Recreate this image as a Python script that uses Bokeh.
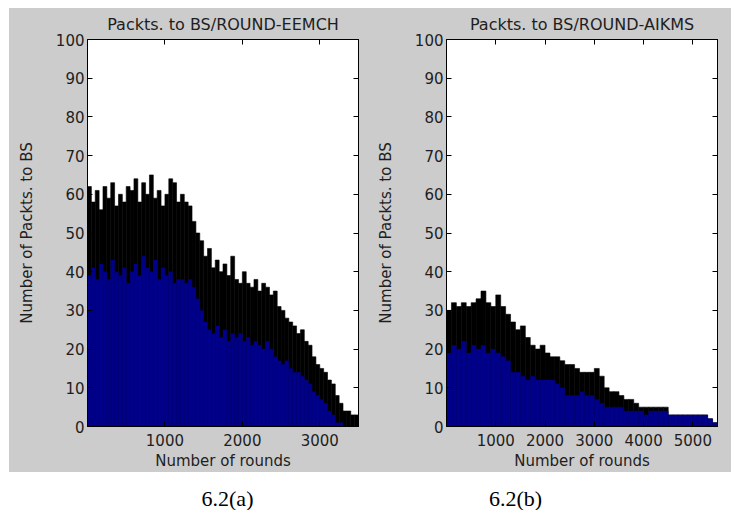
import numpy as np
from bokeh.plotting import figure
from bokeh.layouts import column, row
from bokeh.models import LinearAxis, Range1d, FixedTicker, Label
from bokeh.embed import file_html
from bokeh.resources import INLINE

# ---------------- data ----------------
bin_a = 50  # rounds per bin, EEMCH
upper_a = [62, 58, 61, 56, 62, 59, 63, 57, 60, 58, 62, 61, 64, 58, 63, 60, 65, 59, 61, 57, 60, 64, 63, 58,
           60, 58, 57, 53,
           50, 48, 44, 46, 41, 43, 40, 42, 39, 44, 38, 37, 40, 37, 36, 38, 35, 37, 36, 34, 35, 31,
           30, 28, 27, 26, 24, 25, 22, 21, 18, 16, 15, 14, 12, 11, 8, 6, 4, 4, 3, 3]
lower_a = [39, 41, 38, 42, 40, 38, 43, 40, 39, 41, 37, 40, 42, 39, 44, 41, 40, 43, 38, 41, 39, 40, 37, 38,
           38, 37, 38, 36,
           33, 30, 27, 25, 24, 26, 23, 25, 22, 24, 23, 24, 22, 23, 21, 22, 21, 20, 22, 20, 18, 17,
           16, 17, 15, 14, 14, 13, 12, 11, 9, 8, 7, 6, 4, 3, 1, 1, 0, 0, 0, 0]

bin_b = 100  # rounds per bin, AIKMS
upper_b = [30, 32, 31, 32, 31, 32, 33, 35, 32, 31, 34, 31, 29, 27, 25, 26, 23, 21, 20, 21,
           19, 18, 18, 17, 16, 16, 15, 14, 14, 14, 15, 13, 10, 9, 9, 8, 7, 7, 6, 5,
           5, 5, 5, 5, 5, 3, 3, 3, 3, 3, 3, 3, 3, 2, 1]
lower_b = [19, 21, 20, 22, 19, 21, 20, 21, 19, 20, 19, 18, 17, 14, 14, 13, 12, 13, 12, 12,
           12, 12, 11, 10, 8, 8, 8, 9, 8, 8, 7, 6, 5, 5, 5, 5, 4, 4, 4, 4,
           3, 4, 4, 4, 4, 3, 3, 3, 3, 3, 3, 3, 3, 2, 1]

titles = ["Packts. to BS/ROUND-EEMCH", "Packts. to BS/ROUND-AIKMS"]
x_ticks_a = [1000, 2000, 3000]
x_ticks_b = [1000, 2000, 3000, 4000, 5000]
y_ticks = list(range(0, 101, 10))
captions = ["6.2(a)", "6.2(b)"]

GRAY = "#cccccc"
BLUE = "#000088"
TXT = "#1e1e1e"
FONT = "DejaVu Sans"
FS = "15px"


def make_panel(title, upper, lower, bw, xmax, xticks, width, left, right, bg):
    centers = (np.arange(len(upper)) + 0.5) * bw
    p = figure(width=width, height=472, output_backend="svg", toolbar_location=None,
               x_range=Range1d(0, xmax), y_range=Range1d(0, 100),
               min_border_left=left, min_border_right=right,
               min_border_top=39, min_border_bottom=43,
               background_fill_color="white", border_fill_color=None,
               outline_line_color="black", outline_line_width=1,
               styles={"background": bg})
    p.vbar(x=centers, top=upper, width=bw, bottom=0, fill_color="black", line_color="black", line_width=0.6)
    p.vbar(x=centers, top=lower, width=bw, bottom=0, fill_color=BLUE, line_color=BLUE, line_width=0.3)
    p.grid.visible = False
    p.title.text = title
    p.title.align = "center"
    p.title.text_font = FONT
    p.title.text_font_size = "16px"
    p.title.text_font_style = "normal"
    p.title.text_color = TXT
    p.title.offset = 0
    p.title.standoff = 11

    xa = p.xaxis[0]
    xa.ticker = FixedTicker(ticks=xticks)
    xa.axis_label = "Number of rounds"
    ya = p.yaxis[0]
    ya.ticker = FixedTicker(ticks=y_ticks)
    ya.axis_label = "Number of Packts. to BS"
    for ax in (xa, ya):
        ax.major_tick_in = 5
        ax.major_tick_out = 0
        ax.minor_tick_line_color = None
        ax.axis_line_color = "black"
        ax.major_tick_line_color = "black"
        ax.major_label_text_font = FONT
        ax.major_label_text_font_size = FS
        ax.major_label_text_color = TXT
        ax.axis_label_text_font = FONT
        ax.axis_label_text_font_size = FS
        ax.axis_label_text_font_style = "normal"
        ax.axis_label_text_color = TXT
    xa.major_label_standoff = 7
    xa.axis_label_standoff = 3
    ya.major_label_standoff = 3
    ya.axis_label_standoff = 17

    top = LinearAxis(ticker=FixedTicker(ticks=xticks))
    rgt = LinearAxis(ticker=FixedTicker(ticks=y_ticks))
    for ax in (top, rgt):
        ax.major_tick_in = 5
        ax.major_tick_out = 0
        ax.minor_tick_line_color = None
        ax.major_label_text_color = None
        ax.major_label_text_font_size = "1px"
        ax.major_label_standoff = 0
        ax.axis_line_color = "black"
    p.add_layout(top, "above")
    p.add_layout(rgt, "right")
    return p


bg_a = f"linear-gradient(to right, white 9px, transparent 9px), linear-gradient(to bottom, white 8px, {GRAY} 8px)"
bg_b = f"linear-gradient(to bottom, white 8px, {GRAY} 8px)"
pa = make_panel(titles[0], upper_a, lower_a, bin_a, 3500, x_ticks_a, 369, 87, 11, bg_a)
pb = make_panel(titles[1], upper_b, lower_b, bin_b, 5500, x_ticks_b, 362, 77, 14, bg_b)

cap = figure(width=731, height=38, output_backend="svg", toolbar_location=None,
             x_range=Range1d(0, 731), y_range=Range1d(0, 38),
             min_border=0, outline_line_color=None,
             background_fill_color="white", border_fill_color="white")
cap.axis.visible = False
cap.grid.visible = False
for txt, cx in zip(captions, [227, 515]):
    cap.add_layout(Label(x=cx, y=12, text=txt, text_align="center", text_baseline="middle",
                         text_font="Liberation Serif", text_font_size="22px", text_color="black"))

layout = column(row(pa, pb, spacing=0), cap, spacing=0)
open("out.html", "w").write(file_html(layout, INLINE))
